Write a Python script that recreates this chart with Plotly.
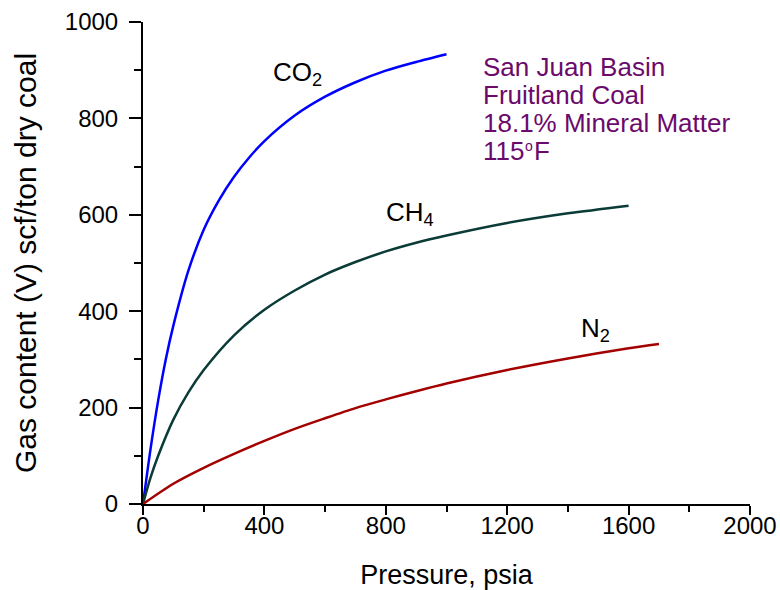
import plotly.graph_objects as go

# Pressure (psia) and gas content (scf/ton dry coal)
co2_p = [0, 25, 50, 75, 100, 150, 200, 250, 300, 350, 400, 500, 600, 700, 800, 900, 1000]
co2_v = [0, 115, 215, 300, 370, 485, 569, 630, 679, 719, 753, 806, 845, 875, 899, 917, 933]

ch4_p = [0, 25, 50, 100, 150, 200, 300, 400, 500, 600, 700, 800, 900, 1000, 1200, 1400, 1600]
ch4_v = [0, 55, 100, 175, 232, 278, 350, 403, 443, 476, 502, 524, 542, 557, 583, 603, 619]

n2_p = [0, 100, 200, 300, 400, 500, 600, 700, 800, 900, 1000, 1200, 1400, 1600, 1700]
n2_v = [0, 42, 75, 104, 131, 156, 178, 199, 217, 234, 250, 278, 302, 323, 332]

x_ticks = [0, 400, 800, 1200, 1600, 2000]
y_ticks = [0, 200, 400, 600, 800, 1000]

labels = ["CO<sub>2</sub>", "CH<sub>4</sub>", "N<sub>2</sub>"]
label_x = [509, 880, 1491]
label_y = [893, 602, 363]

info_lines = ["San Juan Basin", "Fruitland Coal", "18.1% Mineral Matter"]
info_y = [907, 849, 791]
temp_y = 733
temp_parts = ["115", "o", "F"]

FONT = "Liberation Sans, Arial, sans-serif"
PURPLE = "#6B0A6B"
INFO_X = 1114

fig = go.Figure()
for p, v, c in [(co2_p, co2_v, "#0000FF"), (ch4_p, ch4_v, "#0B3B36"), (n2_p, n2_v, "#A30000")]:
    fig.add_trace(go.Scatter(x=p, y=v, mode="lines",
                             line=dict(color=c, width=2.5, shape="spline", smoothing=0.8),
                             showlegend=False, hoverinfo="skip", cliponaxis=False))

for t, x, y in zip(labels, label_x, label_y):
    fig.add_annotation(x=x, y=y, text=t, showarrow=False,
                       font=dict(family=FONT, size=26, color="black"))

for t, y in zip(info_lines, info_y):
    fig.add_annotation(x=INFO_X, y=y, xanchor="left", yanchor="middle",
                       text=t, align="left", showarrow=False,
                       font=dict(family=FONT, size=26, color=PURPLE))

# "115ºF" line with a raised small "o"
fig.add_annotation(x=INFO_X, y=temp_y, xanchor="left", yanchor="middle", text=temp_parts[0],
                   showarrow=False, font=dict(family=FONT, size=26, color=PURPLE))
fig.add_annotation(x=INFO_X, y=temp_y, xanchor="left", yanchor="middle", text=temp_parts[1],
                   xshift=42, yshift=5, showarrow=False,
                   font=dict(family=FONT, size=14, color=PURPLE))
fig.add_annotation(x=INFO_X, y=temp_y, xanchor="left", yanchor="middle", text=temp_parts[2],
                   xshift=51, showarrow=False, font=dict(family=FONT, size=26, color=PURPLE))

fig.update_layout(
    width=780, height=590,
    margin=dict(l=143, r=30, t=22, b=86, autoexpand=False),
    plot_bgcolor="white", paper_bgcolor="white",
    font=dict(family=FONT, size=24, color="black"),
    xaxis=dict(range=[0, 2000], tickvals=x_ticks, ticks="outside", ticklen=9, tickwidth=2,
               tickcolor="black", showline=True, linecolor="black", linewidth=2,
               showgrid=False, zeroline=False, automargin=False, ticklabelstandoff=-10,
               minor=dict(dtick=200, ticks="outside", ticklen=6, tickwidth=2, tickcolor="black"),
               title=dict(text="Pressure, psia", standoff=27, font=dict(size=27)),
               tickfont=dict(size=24)),
    yaxis=dict(range=[0, 1000], tickvals=y_ticks, ticks="outside", ticklen=12, tickwidth=2,
               tickcolor="black", showline=True, linecolor="black", linewidth=2,
               showgrid=False, zeroline=False, ticklabelstandoff=6, automargin=False,
               minor=dict(dtick=100, ticks="outside", ticklen=7, tickwidth=2, tickcolor="black"),
               title=dict(text="Gas content (V) scf/ton dry coal", standoff=19, font=dict(size=30)),
               tickfont=dict(size=24)),
)

fig.write_html("out.html")
